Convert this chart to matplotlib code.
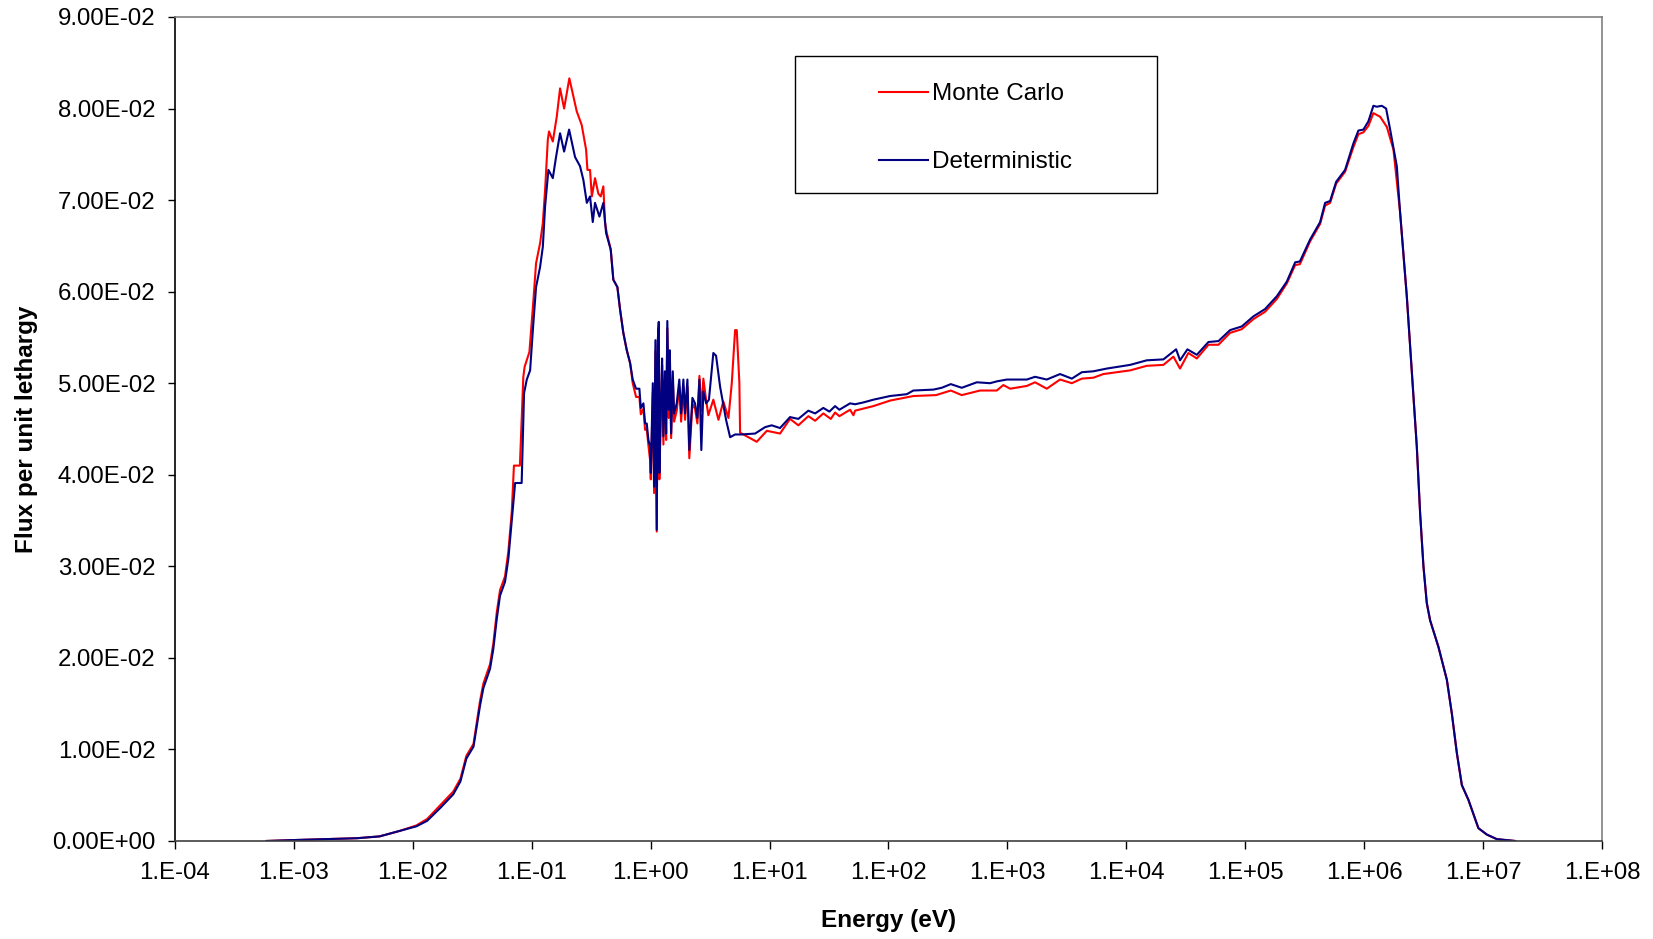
import numpy as np
import matplotlib
matplotlib.use('Agg')
import matplotlib.pyplot as plt
from matplotlib.patches import Rectangle

plt.rcParams['font.family'] = ['Liberation Sans', 'DejaVu Sans']

# log10 of energy (eV) and flux per unit lethargy
det_lg_e = [-3.23, -3.00, -2.47, -2.28, -2.11, -1.97, -1.88, -1.77, -1.66, -1.60,
            -1.55, -1.49, -1.435, -1.407, -1.351, -1.323, -1.294, -1.267, -1.225, -1.197,
            -1.168, -1.140, -1.085, -1.065, -1.042, -1.014, -0.987, -0.964, -0.930, -0.907,
            -0.888, -0.860, -0.823, -0.796, -0.762, -0.728, -0.686, -0.636, -0.594, -0.566,
            -0.537, -0.510, -0.487, -0.468, -0.431, -0.398, -0.375, -0.336, -0.314, -0.280,
            -0.257, -0.230, -0.201, -0.173, -0.151, -0.123, -0.095, -0.083, -0.061, -0.047,
            -0.033, -0.019, -0.005, 0.001, 0.018, 0.029, 0.040, 0.051, 0.060, 0.068,
            0.073, 0.087, 0.096, 0.107, 0.119, 0.130, 0.140, 0.152, 0.161, 0.172,
            0.186, 0.197, 0.219, 0.241, 0.256, 0.275, 0.289, 0.309, 0.325, 0.351,
            0.373, 0.393, 0.410, 0.426, 0.443, 0.466, 0.490, 0.527, 0.550, 0.584,
            0.634, 0.668, 0.710, 0.760, 0.878, 0.962, 1.018, 1.088, 1.172, 1.242,
            1.326, 1.383, 1.452, 1.503, 1.551, 1.587, 1.677, 1.719, 1.789, 1.873,
            2.013, 2.154, 2.209, 2.377, 2.448, 2.524, 2.616, 2.743, 2.854, 2.911,
            2.995, 3.163, 3.233, 3.331, 3.443, 3.542, 3.626, 3.723, 3.836, 4.032,
            4.172, 4.312, 4.419, 4.452, 4.514, 4.593, 4.691, 4.775, 4.873, 4.971,
            5.069, 5.167, 5.266, 5.350, 5.420, 5.460, 5.546, 5.630, 5.672, 5.714,
            5.765, 5.840, 5.910, 5.952, 5.994, 6.036, 6.078, 6.107, 6.149, 6.185,
            6.219, 6.275, 6.303, 6.359, 6.406, 6.443, 6.471, 6.499, 6.527, 6.555,
            6.625, 6.696, 6.738, 6.780, 6.822, 6.877, 6.961, 7.032, 7.116, 7.270]
det_flux = [0.0000, 0.0001, 0.0003, 0.0005, 0.0011, 0.0016, 0.0022, 0.0036, 0.0051, 0.0065,
            0.0090, 0.0103, 0.0148, 0.0167, 0.0188, 0.0210, 0.0243, 0.0268, 0.0283, 0.0308,
            0.0350, 0.0391, 0.0391, 0.0489, 0.0504, 0.0514, 0.0565, 0.0605, 0.0627, 0.0649,
            0.0693, 0.0733, 0.0724, 0.0747, 0.0773, 0.0753, 0.0777, 0.0747, 0.0737, 0.0722,
            0.0697, 0.0704, 0.0676, 0.0697, 0.0682, 0.0697, 0.0664, 0.0646, 0.0613, 0.0605,
            0.0580, 0.0555, 0.0536, 0.0522, 0.0504, 0.0494, 0.0494, 0.0473, 0.0478, 0.0456,
            0.0456, 0.0438, 0.0431, 0.0402, 0.0500, 0.0387, 0.0547, 0.0340, 0.0547, 0.0567,
            0.0402, 0.0482, 0.0527, 0.0442, 0.0513, 0.0445, 0.0568, 0.0471, 0.0536, 0.0445,
            0.0513, 0.0467, 0.0478, 0.0504, 0.0467, 0.0504, 0.0467, 0.0504, 0.0427, 0.0484,
            0.0478, 0.0462, 0.0504, 0.0427, 0.0491, 0.0478, 0.0482, 0.0533, 0.0530, 0.0496,
            0.0460, 0.0441, 0.0444, 0.0444, 0.0445, 0.0452, 0.0454, 0.0451, 0.0463, 0.0461,
            0.0470, 0.0467, 0.0473, 0.0469, 0.0475, 0.0471, 0.0478, 0.0477, 0.0479, 0.0482,
            0.0486, 0.0488, 0.0492, 0.0493, 0.0495, 0.0499, 0.0495, 0.0501, 0.0500, 0.0502,
            0.0504, 0.0504, 0.0507, 0.0504, 0.0510, 0.0505, 0.0512, 0.0513, 0.0516, 0.0520,
            0.0525, 0.0526, 0.0537, 0.0525, 0.0537, 0.0531, 0.0545, 0.0546, 0.0558, 0.0562,
            0.0573, 0.0581, 0.0595, 0.0611, 0.0632, 0.0633, 0.0657, 0.0676, 0.0697, 0.0699,
            0.0720, 0.0733, 0.0762, 0.0776, 0.0777, 0.0786, 0.0803, 0.0802, 0.0803, 0.0800,
            0.0777, 0.0737, 0.0686, 0.0595, 0.0504, 0.0431, 0.0358, 0.0300, 0.0260, 0.0241,
            0.0212, 0.0176, 0.0139, 0.0096, 0.0061, 0.0045, 0.0014, 0.0007, 0.0002, 0.0000]

mc_lg_e = [-3.23, -3.00, -2.47, -2.28, -2.11, -1.97, -1.88, -1.77, -1.66, -1.60,
           -1.55, -1.49, -1.435, -1.407, -1.351, -1.323, -1.294, -1.267, -1.225, -1.197,
           -1.168, -1.150, -1.100, -1.071, -1.060, -1.020, -0.986, -0.964, -0.930, -0.907,
           -0.888, -0.865, -0.855, -0.823, -0.790, -0.762, -0.728, -0.684, -0.622, -0.580,
           -0.543, -0.532, -0.510, -0.495, -0.468, -0.440, -0.420, -0.398, -0.384, -0.369,
           -0.336, -0.314, -0.280, -0.257, -0.230, -0.201, -0.173, -0.151, -0.123, -0.095,
           -0.083, -0.061, -0.047, -0.033, -0.019, -0.005, 0.001, 0.018, 0.029, 0.040,
           0.051, 0.060, 0.068, 0.073, 0.087, 0.096, 0.107, 0.119, 0.130, 0.140,
           0.152, 0.161, 0.172, 0.186, 0.197, 0.219, 0.241, 0.256, 0.275, 0.289,
           0.309, 0.325, 0.351, 0.373, 0.393, 0.410, 0.426, 0.443, 0.466, 0.485,
           0.527, 0.570, 0.611, 0.654, 0.682, 0.710, 0.724, 0.746, 0.752, 0.836,
           0.892, 0.977, 1.088, 1.172, 1.242, 1.326, 1.383, 1.452, 1.515, 1.551,
           1.587, 1.677, 1.705, 1.719, 1.873, 2.013, 2.209, 2.400, 2.524, 2.616,
           2.770, 2.911, 2.966, 3.023, 3.163, 3.233, 3.331, 3.443, 3.542, 3.626,
           3.723, 3.807, 4.032, 4.172, 4.312, 4.396, 4.452, 4.522, 4.593, 4.691,
           4.775, 4.873, 4.971, 5.069, 5.167, 5.266, 5.350, 5.420, 5.460, 5.546,
           5.630, 5.672, 5.714, 5.765, 5.840, 5.910, 5.952, 5.994, 6.036, 6.078,
           6.135, 6.191, 6.247, 6.303, 6.359, 6.406, 6.443, 6.471, 6.499, 6.527,
           6.555, 6.625, 6.696, 6.738, 6.780, 6.822, 6.877, 6.961, 7.032, 7.116, 7.270]
mc_flux = [0.0000, 0.0001, 0.0003, 0.0005, 0.0011, 0.0017, 0.0024, 0.0039, 0.0054, 0.0068,
           0.0093, 0.0106, 0.0153, 0.0172, 0.0193, 0.0216, 0.0250, 0.0274, 0.0289, 0.0316,
           0.0360, 0.0410, 0.0410, 0.0507, 0.0518, 0.0534, 0.0591, 0.0631, 0.0653, 0.0675,
           0.0711, 0.0766, 0.0775, 0.0764, 0.0791, 0.0822, 0.0800, 0.0833, 0.0797, 0.0782,
           0.0755, 0.0733, 0.0733, 0.0704, 0.0724, 0.0707, 0.0704, 0.0715, 0.0675, 0.0664,
           0.0646, 0.0613, 0.0605, 0.0580, 0.0555, 0.0536, 0.0522, 0.0500, 0.0485, 0.0485,
           0.0466, 0.0472, 0.0449, 0.0450, 0.0432, 0.0416, 0.0395, 0.0490, 0.0380, 0.0535,
           0.0338, 0.0540, 0.0560, 0.0395, 0.0475, 0.0520, 0.0433, 0.0505, 0.0438, 0.0560,
           0.0462, 0.0528, 0.0440, 0.0505, 0.0458, 0.0470, 0.0496, 0.0458, 0.0496, 0.0460,
           0.0496, 0.0418, 0.0478, 0.0472, 0.0456, 0.0508, 0.0470, 0.0505, 0.0482, 0.0465,
           0.0482, 0.0460, 0.0480, 0.0462, 0.0500, 0.0558, 0.0558, 0.0500, 0.0446, 0.0440,
           0.0436, 0.0448, 0.0445, 0.0461, 0.0454, 0.0464, 0.0459, 0.0467, 0.0461, 0.0468,
           0.0464, 0.0471, 0.0465, 0.0470, 0.0475, 0.0481, 0.0486, 0.0487, 0.0492, 0.0487,
           0.0492, 0.0492, 0.0498, 0.0494, 0.0497, 0.0501, 0.0494, 0.0504, 0.0500, 0.0505,
           0.0506, 0.0510, 0.0514, 0.0519, 0.0520, 0.0529, 0.0516, 0.0533, 0.0527, 0.0542,
           0.0542, 0.0555, 0.0559, 0.0570, 0.0578, 0.0592, 0.0609, 0.0629, 0.0630, 0.0655,
           0.0674, 0.0694, 0.0697, 0.0718, 0.0731, 0.0758, 0.0772, 0.0774, 0.0781, 0.0795,
           0.0791, 0.0780, 0.0755, 0.0686, 0.0595, 0.0504, 0.0431, 0.0358, 0.0300, 0.0260,
           0.0241, 0.0212, 0.0176, 0.0139, 0.0096, 0.0061, 0.0045, 0.0014, 0.0007, 0.0002, 0.0000]

x_ticks = [1e-4, 1e-3, 1e-2, 1e-1, 1e0, 1e1, 1e2, 1e3, 1e4, 1e5, 1e6, 1e7, 1e8]
x_tick_labels = ['1.E-04', '1.E-03', '1.E-02', '1.E-01', '1.E+00', '1.E+01', '1.E+02',
                 '1.E+03', '1.E+04', '1.E+05', '1.E+06', '1.E+07', '1.E+08']
y_ticks = [0.00, 0.01, 0.02, 0.03, 0.04, 0.05, 0.06, 0.07, 0.08, 0.09]
y_tick_labels = ['0.00E+00', '1.00E-02', '2.00E-02', '3.00E-02', '4.00E-02',
                 '5.00E-02', '6.00E-02', '7.00E-02', '8.00E-02', '9.00E-02']

fig = plt.figure(figsize=(16.53, 9.39), dpi=100)
ax = fig.add_axes([0.1059, 0.1044, 0.8632, 0.8775])

ax.plot(10 ** np.array(mc_lg_e), mc_flux, color='#FF0000', lw=1.5, label='Monte Carlo')
ax.plot(10 ** np.array(det_lg_e), det_flux, color='#000080', lw=1.5, label='Deterministic')

ax.set_xscale('log')
ax.set_xlim(1e-4, 1e8)
ax.set_ylim(0, 0.09)
ax.set_xticks(x_ticks)
ax.set_xticklabels(x_tick_labels)
ax.minorticks_off()
ax.set_yticks(y_ticks)
ax.set_yticklabels(y_tick_labels)
ax.tick_params(axis='y', labelsize=17.3, length=5, width=1, pad=9, direction='out')
ax.tick_params(axis='x', labelsize=17.3, length=5.5, width=1, pad=10, direction='out')

for s in ['top', 'right']:
    ax.spines[s].set_color('#808080')
ax.spines['left'].set_color('black')
ax.spines['bottom'].set_color('#404040')
for s in ax.spines.values():
    s.set_linewidth(1.2)

ax.set_ylabel('Flux per unit lethargy', fontsize=17.5, fontweight='bold', labelpad=10)
ax.set_xlabel('Energy (eV)', fontsize=17.5, fontweight='bold', labelpad=17.5)

ax.add_patch(Rectangle((0.4345, 0.786), 0.2535, 0.1667, transform=ax.transAxes,
                       fill=False, edgecolor='black', lw=1, zorder=5))
ax.legend(loc='center', bbox_to_anchor=(0.5610, 0.8650), frameon=False, fontsize=17.5,
          handlelength=2.0, handletextpad=0.15, labelspacing=1.9)

fig.savefig('out.png', dpi=100)
